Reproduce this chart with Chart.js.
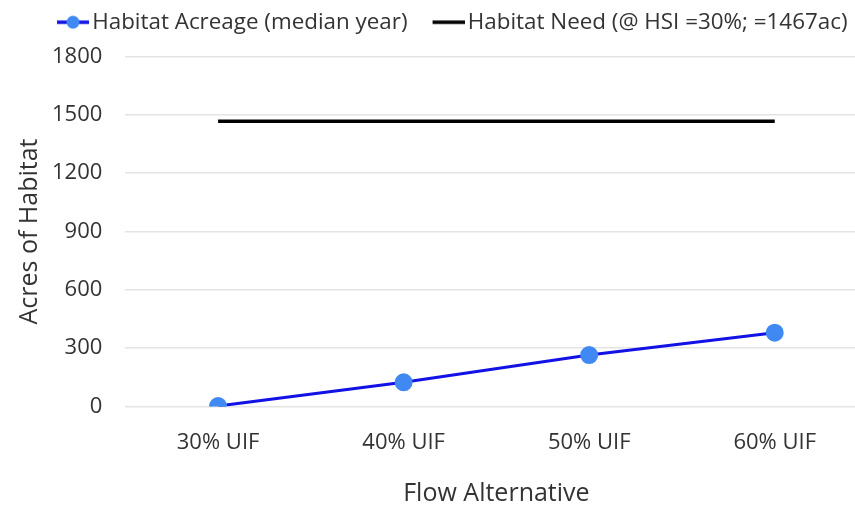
<!DOCTYPE html>
<html><head><meta charset="utf-8">
<script src="https://cdn.jsdelivr.net/npm/chart.js@4.4.1/dist/chart.umd.min.js"></script>
<style>html,body{margin:0;padding:0;background:#fff;overflow:hidden;}#wrap{width:878px;height:509px;}</style>
</head><body><div id="wrap"><canvas id="c"></canvas></div>
<script>
const categories = ["30% UIF", "40% UIF", "50% UIF", "60% UIF"];
const habitatAcreage = [3, 125, 265, 380];
const habitatNeed = [1467, 1467, 1467, 1467];
const seriesNames = ["Habitat Acreage (median year)", "Habitat Need (@ HSI =30%; =1467ac)"];
const yTicks = [0, 300, 600, 900, 1200, 1500, 1800];

const BLUE_LINE = '#1212e6', BLUE_DOT = '#4189f2', TEXT = '#333333';
// legend marker image: visible 32px marker in the right part of the image
function markerCanvas(lineColor, dotColor, withDot){
  const W = 54, H = 16, vis = 32;
  const c = document.createElement('canvas');
  c.width = W; c.height = H;
  const g = c.getContext('2d');
  const x0 = W - vis;
  g.strokeStyle = lineColor; g.lineWidth = 3.5;
  g.beginPath(); g.moveTo(x0, H/2); g.lineTo(W, H/2); g.stroke();
  if (withDot){ g.fillStyle = dotColor; g.beginPath(); g.arc(x0 + vis/2, H/2, 6.5, 0, Math.PI*2); g.fill(); }
  return c;
}
const FONT = "'Open Sans', sans-serif";
new Chart(document.getElementById('c'), {
  type: 'line',
  data: {
    labels: categories,
    datasets: [
      { label: seriesNames[0], data: habitatAcreage, borderColor: BLUE_LINE, borderWidth: 3,
        pointBackgroundColor: BLUE_DOT, pointBorderColor: BLUE_DOT, pointRadius: 7.5, tension: 0 },
      { label: seriesNames[1], data: habitatNeed, borderColor: '#000', borderWidth: 3.5,
        pointRadius: 0, tension: 0 }
    ]
  },
  options: {
    responsive: true, maintainAspectRatio: false, animation: false,
    layout: { padding: { top: 0, left: 32, right: 3, bottom: 0 } },
    plugins: {
      tooltip: { enabled: false },
      legend: {
        position: 'top', align: 'start',
        labels: {
          color: TEXT, font: { family: FONT, size: 22.4 }, usePointStyle: true, pointStyleWidth: 38, padding: 11,
          generateLabels(chart){
            return chart.data.datasets.map((d, i) => ({
              text: d.label, datasetIndex: i, fontColor: TEXT,
              pointStyle: i === 0 ? markerCanvas(BLUE_LINE, BLUE_DOT, true) : markerCanvas('#000', '#000', false),
              hidden: false, lineWidth: 0, strokeStyle: 'transparent', fillStyle: 'transparent'
            }));
          }
        }
      }
    },
    scales: {
      x: {
        offset: true,
        grid: { display: false, drawTicks: false },
        border: { display: false },
        ticks: { color: TEXT, font: { family: FONT, size: 22 }, padding: 23 },
        title: { display: true, text: 'Flow Alternative', color: TEXT, font: { family: FONT, size: 25 }, padding: { top: 0, bottom: 0 } }
      },
      xTopSpacer: {
        type: 'category', position: 'top', offset: true,
        grid: { display: false, drawTicks: false }, border: { display: false },
        ticks: { display: false },
        afterFit(s){ s.height = 13; }
      },
      y: {
        min: 0, max: 1800,
        afterBuildTicks(axis){ axis.ticks = yTicks.map(v => ({ value: v })); },
        grid: { color: '#e4e4e4', lineWidth: 1.5, drawTicks: false },
        border: { display: false },
        ticks: { color: TEXT, font: { family: FONT, size: 22 }, padding: 23, format: { useGrouping: false } },
        title: { display: true, text: 'Acres of Habitat', color: TEXT, font: { family: FONT, size: 25 }, padding: { top: -17, bottom: -16 } }
      }
    }
  }
});
</script></body></html>
